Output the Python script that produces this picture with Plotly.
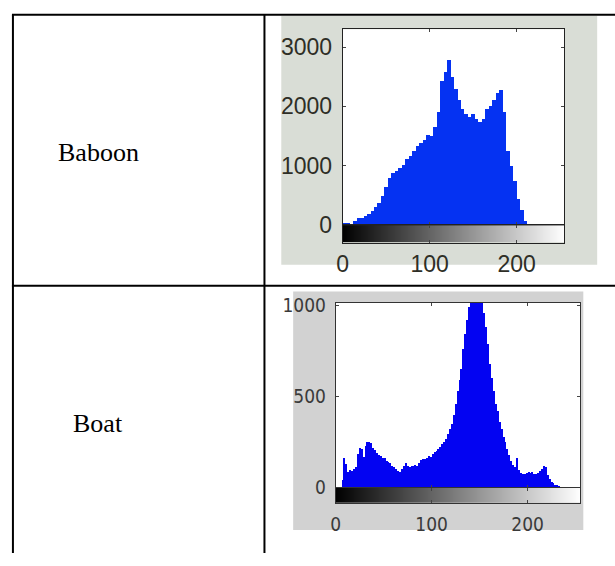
import plotly.graph_objects as go

W, H = 615, 566

# ---------------- data ----------------
row_labels = ["Baboon", "Boat"]

baboon_bin_width = 4
baboon_counts = [
    40, 35, 15, 70, 115, 120, 150, 190, 240, 300,
    380, 500, 640, 790, 880, 910, 970, 1010, 1110, 1170,
    1250, 1330, 1380, 1440, 1520, 1500, 1660, 1900, 2420, 2580,
    2780, 2500, 2300, 2100, 1960, 1876, 1821, 1876, 1795, 1740,
    1780, 1950, 2000, 2100, 2230, 2280, 1900, 1250, 1000, 750,
    450, 260, 70, 0, 0, 0, 0, 0, 0, 0, 0, 0, 0, 0,
]

boat_bin_width = 2
boat_counts = [
    0, 0, 0, 40, 165, 130, 86, 95, 92, 100,
    112, 182, 215, 210, 170, 230, 250, 252, 244, 220,
    205, 191, 180, 174, 165, 160, 147, 140, 135, 121,
    115, 104, 92, 86, 100, 120, 135, 118, 112, 121,
    121, 125, 121, 135, 150, 156, 158, 165, 172, 170,
    185, 195, 200, 210, 225, 240, 250, 265, 295, 320,
    350, 400, 460, 530, 590, 650, 760, 840, 920, 990,
    1050, 1100, 1100, 1100, 1100, 1060, 1020, 960, 880, 790,
    680, 600, 530, 460, 420, 360, 320, 280, 250, 210,
    180, 145, 125, 112, 160, 95, 80, 77, 74, 80,
    86, 82, 88, 77, 74, 80, 90, 100, 121, 115,
    70, 50, 33, 25, 16, 14, 8, 6, 4, 0,
    0, 0, 0, 0, 0, 0, 0, 0,
]

gray_levels = list(range(256))
x_ticks = [0, 100, 200]
baboon_y_ticks = [0, 1000, 2000, 3000]
boat_y_ticks = [0, 500, 1000]


def px(x):
    return x / W


def py(y):
    return 1 - y / H


baboon_centers = [baboon_bin_width * i + baboon_bin_width / 2 for i in range(len(baboon_counts))]
boat_centers = [boat_bin_width * i + boat_bin_width / 2 for i in range(len(boat_counts))]

fig = go.Figure()

fig.add_trace(go.Bar(
    x=baboon_centers, y=baboon_counts, width=baboon_bin_width,
    marker=dict(color="#0532F2", line=dict(width=0)),
    xaxis="x", yaxis="y", hoverinfo="x+y", showlegend=False))

fig.add_trace(go.Heatmap(
    z=[gray_levels], x=gray_levels, y=[0], zmin=0, zmax=255,
    colorscale=[[0, "#000000"], [1, "#ffffff"]], showscale=False,
    xaxis="x2", yaxis="y2", hoverinfo="skip"))

fig.add_trace(go.Bar(
    x=boat_centers, y=boat_counts, width=boat_bin_width,
    marker=dict(color="#0303F2", line=dict(width=0)),
    xaxis="x3", yaxis="y3", hoverinfo="x+y", showlegend=False))

fig.add_trace(go.Heatmap(
    z=[gray_levels], x=gray_levels, y=[0], zmin=0, zmax=255,
    colorscale=[[0, "#000000"], [1, "#ffffff"]], showscale=False,
    xaxis="x4", yaxis="y4", hoverinfo="skip"))

# panel geometry (pixels)
bab_l, bab_r, bab_t, bab_b, bab_cb = 340, 564, 21, 225, 243
boat_l, boat_r, boat_t, boat_b, boat_cb = 333, 580, 306, 498, 514

bab_font = dict(family="Liberation Sans, Arial, sans-serif", size=23, color="#2e2e26")
boat_font = dict(family="Liberation Sans Narrow, Arial Narrow, DejaVu Sans Condensed, sans-serif",
                 size=19, color="#3a3a3a")

common = dict(showgrid=False, zeroline=False, showline=True, mirror="ticks",
              ticks="inside", ticklen=3, tickwidth=1, fixedrange=True)

fig.update_layout(
    width=W, height=H,
    margin=dict(l=0, r=0, t=0, b=0),
    paper_bgcolor="white", plot_bgcolor="white",
    bargap=0, showlegend=False,
    xaxis=dict(domain=[px(bab_l), px(bab_r)], range=[0, 255], anchor="y",
               tickvals=x_ticks, showticklabels=False, linecolor="#222", **common),
    yaxis=dict(domain=[py(bab_b), py(bab_t)], range=[0, 3300], anchor="x",
               tickvals=baboon_y_ticks, tickfont=bab_font, ticklabelstandoff=5,
               linecolor="#222", **common),
    xaxis2=dict(domain=[px(bab_l), px(bab_r)], range=[0, 255], anchor="y2",
                tickvals=x_ticks, tickfont=bab_font, ticklabelstandoff=1,
                linecolor="#222", **common),
    yaxis2=dict(domain=[py(bab_cb), py(bab_b)], range=[-0.5, 0.5], anchor="x2",
                showticklabels=False, showgrid=False, zeroline=False, showline=True,
                mirror=True, ticks="", linecolor="#222", fixedrange=True),
    xaxis3=dict(domain=[px(boat_l), px(boat_r)], range=[0, 255], anchor="y3",
                tickvals=x_ticks, showticklabels=False, linecolor="#333", **common),
    yaxis3=dict(domain=[py(boat_b), py(boat_t)], range=[0, 1012], anchor="x3",
                tickvals=boat_y_ticks, tickfont=boat_font, ticklabelstandoff=5,
                linecolor="#333", **common),
    xaxis4=dict(domain=[px(boat_l), px(boat_r)], range=[0, 255], anchor="y4",
                tickvals=x_ticks, tickfont=boat_font, ticklabelstandoff=4,
                linecolor="#333", **common),
    yaxis4=dict(domain=[py(boat_cb), py(boat_b)], range=[-0.5, 0.5], anchor="x4",
                showticklabels=False, showgrid=False, zeroline=False, showline=True,
                mirror=True, ticks="", linecolor="#333", fixedrange=True),
)

shapes = []
# gray image backgrounds
shapes.append(dict(type="rect", xref="paper", yref="paper", layer="below",
                   x0=px(278), x1=px(597), y0=py(266), y1=py(7),
                   fillcolor="#d9ddd6", line=dict(width=0)))
shapes.append(dict(type="rect", xref="paper", yref="paper", layer="below",
                   x0=px(290), x1=px(583), y0=py(542), y1=py(294),
                   fillcolor="#d2d2d2", line=dict(width=0)))
# white plot areas
shapes.append(dict(type="rect", xref="paper", yref="paper", layer="below",
                   x0=px(bab_l), x1=px(bab_r), y0=py(bab_b), y1=py(bab_t),
                   fillcolor="white", line=dict(width=0)))
shapes.append(dict(type="rect", xref="paper", yref="paper", layer="below",
                   x0=px(boat_l), x1=px(boat_r), y0=py(boat_b), y1=py(boat_t),
                   fillcolor="white", line=dict(width=0)))
# table lines
tline = dict(color="black", width=2)
shapes.append(dict(type="line", xref="paper", yref="paper", x0=px(7), x1=px(7),
                   y0=py(6), y1=0, line=tline))
shapes.append(dict(type="line", xref="paper", yref="paper", x0=px(261), x1=px(261),
                   y0=py(6), y1=0, line=tline))
shapes.append(dict(type="line", xref="paper", yref="paper", x0=px(6), x1=1,
                   y0=py(6), y1=py(6), line=tline))
shapes.append(dict(type="line", xref="paper", yref="paper", x0=px(6), x1=1,
                   y0=py(288), y1=py(288), line=tline))
fig.update_layout(shapes=shapes)

label_font = dict(family="Liberation Serif, Times New Roman, serif", size=26, color="black")
fig.add_annotation(x=px(93), y=py(149), xref="paper", yref="paper", text=row_labels[0],
                   showarrow=False, font=label_font, xanchor="center", yanchor="middle")
fig.add_annotation(x=px(93), y=py(431), xref="paper", yref="paper", text=row_labels[1],
                   showarrow=False, font=label_font, xanchor="center", yanchor="middle")

fig.write_html(
    "out.html",
    config={"displayModeBar": False, "staticPlot": True},
    post_script=(
        "document.documentElement.style.margin='0';"
        "document.body.style.margin='0';document.body.style.padding='0';"
        "document.documentElement.style.overflow='hidden';"
        "document.body.style.overflow='hidden';"
    ),
)
